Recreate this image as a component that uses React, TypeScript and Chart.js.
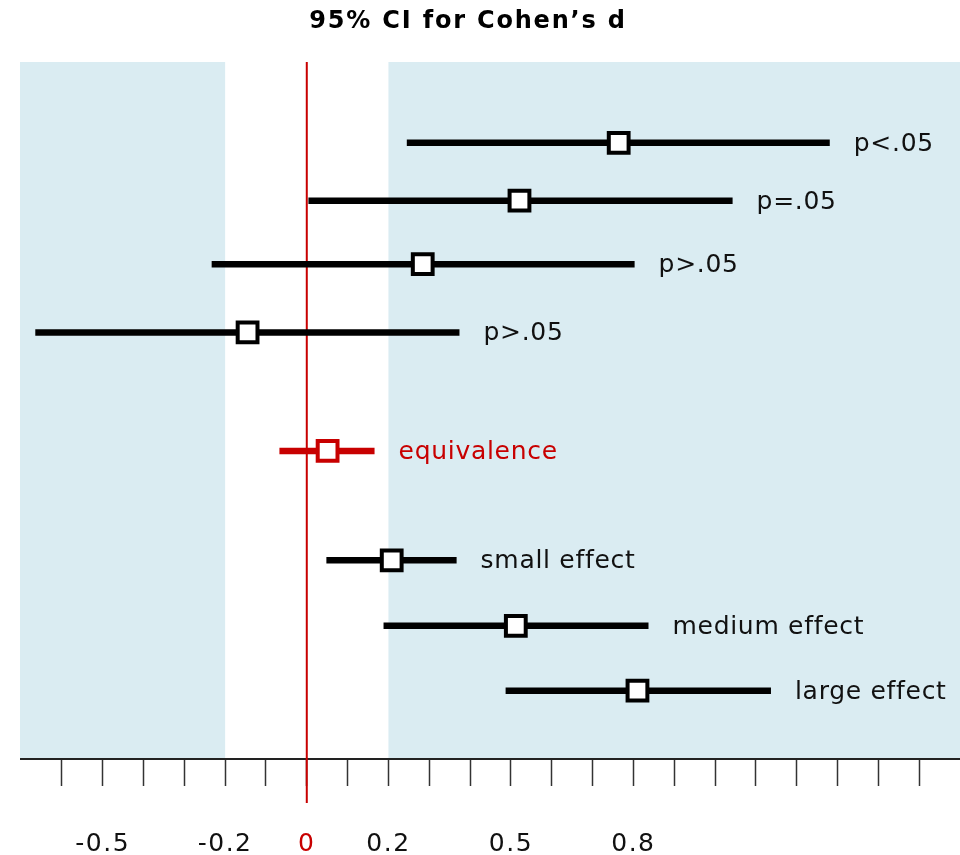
import React, { useEffect, useRef } from "react";
import { Chart, registerables } from "chart.js";

Chart.register(...registerables);

// ---- data ----
const rowLabels = ["p<.05", "p=.05", "p>.05", "p>.05", "equivalence", "small effect", "medium effect", "large effect"];
const rowPos = [1.16, 1.99, 2.9, 3.88, 5.58, 7.15, 8.09, 9.02];
const ciLower = [0.245, 0.004, -0.233, -0.665, -0.067, 0.048, 0.188, 0.487];
const ciUpper = [1.281, 1.043, 0.803, 0.374, 0.166, 0.367, 0.837, 1.137];
const estimate = [0.764, 0.521, 0.284, -0.145, 0.051, 0.208, 0.512, 0.81];
const highlightRow = 4; // equivalence row in red

const tickValues = [-0.6, -0.5, -0.4, -0.3, -0.2, -0.1, 0, 0.1, 0.2, 0.3, 0.4, 0.5, 0.6, 0.7, 0.8, 0.9, 1.0, 1.1, 1.2, 1.3, 1.4, 1.5];
const labeledTickValues = [-0.5, -0.2, 0, 0.2, 0.5, 0.8];
const labeledTickText = ["-0.5", "-0.2", "0", "0.2", "0.5", "0.8"];
const shadeBelow = -0.2;
const shadeAbove = 0.2;
const titleText = "95% CI for Cohen\u2019s d";

const RED = "#c80000";
const BLUE = "#daecf2";
const FONT = "'DejaVu Sans', Verdana, sans-serif";

export default function App() {
  const ref = useRef<HTMLCanvasElement>(null);

  useEffect(() => {
    document.body.style.margin = "0";
    const canvas = ref.current!;

    const barSets = ciLower.map((lo, i) => ({
      type: "scatter" as const,
      showLine: true,
      data: [
        { x: lo, y: rowPos[i] },
        { x: ciUpper[i], y: rowPos[i] },
      ],
      borderColor: i === highlightRow ? RED : "#000",
      borderWidth: 6.5,
      borderCapStyle: "butt" as const,
      pointRadius: 0,
      pointHoverRadius: 0,
      order: 2,
    }));

    const markerSet = {
      type: "scatter" as const,
      data: estimate.map((v, i) => ({ x: v, y: rowPos[i] })),
      pointStyle: "rect" as const,
      pointRadius: 14,
      pointHoverRadius: 14,
      pointBorderWidth: 4,
      pointBackgroundColor: "#fff",
      pointBorderColor: estimate.map((_, i) => (i === highlightRow ? RED : "#000")),
      borderWidth: 4,
      showLine: false,
      order: 0,
    };

    const decor = {
      id: "decor",
      beforeDraw(chart: any) {
        const { ctx, chartArea, scales } = chart;
        const x = scales.x;
        ctx.save();
        ctx.fillStyle = BLUE;
        const xl = x.getPixelForValue(shadeBelow);
        const xr = x.getPixelForValue(shadeAbove);
        ctx.fillRect(chartArea.left - 1, chartArea.top, xl - chartArea.left + 1, chartArea.bottom - chartArea.top - 1);
        ctx.fillRect(xr, chartArea.top, chartArea.right - xr, chartArea.bottom - chartArea.top - 1);
        ctx.restore();
        (ctx as any).letterSpacing = "1.5px";
      },
      beforeDatasetsDraw(chart: any) {
        const { ctx, chartArea, scales } = chart;
        const x0 = scales.x.getPixelForValue(0);
        ctx.save();
        ctx.strokeStyle = RED;
        ctx.lineWidth = 2;
        ctx.beginPath();
        ctx.moveTo(x0, chartArea.top);
        ctx.lineTo(x0, chartArea.bottom + 44);
        ctx.stroke();
        ctx.restore();
      },
      afterDraw(chart: any) {
        const { ctx, scales } = chart;
        ctx.save();
        (ctx as any).letterSpacing = "0.7px";
        ctx.font = `25px ${FONT}`;
        ctx.textAlign = "left";
        ctx.textBaseline = "alphabetic";
        rowLabels.forEach((t, i) => {
          ctx.fillStyle = i === highlightRow ? RED : "#111";
          const px = scales.x.getPixelForValue(ciUpper[i]) + 24;
          const py = scales.y.getPixelForValue(rowPos[i]) + 8;
          ctx.fillText(t, px, py);
        });
        (ctx as any).letterSpacing = "1.8px";
        ctx.font = `bold 24px ${FONT}`;
        ctx.fillStyle = "#000";
        ctx.textAlign = "center";
        ctx.fillText(titleText, 468, 28);
        ctx.restore();
        (ctx as any).letterSpacing = "0px";
      },
    };

    const chart = new Chart(canvas, {
      type: "scatter",
      data: { datasets: [markerSet as any, ...barSets] },
      options: {
        animation: false,
        responsive: false,
        events: [],
        layout: { autoPadding: false, padding: { top: 62, left: 21, right: 0, bottom: 0 } },
        plugins: { legend: { display: false }, tooltip: { enabled: false }, title: { display: false } },
        scales: {
          x: {
            type: "linear",
            min: -0.7,
            max: 1.6,
            afterBuildTicks(scale: any) {
              scale.ticks = tickValues.map((v) => ({ value: v }));
            },
            afterFit(scale: any) {
              scale.height = 96;
              scale.paddingLeft = 0;
              scale.paddingRight = 0;
            },
            border: { display: true, color: "#222", width: 2 },
            grid: {
              display: true,
              drawOnChartArea: false,
              drawTicks: true,
              tickLength: 27,
              tickColor: "#333",
              tickWidth: 1.5,
            },
            ticks: {
              autoSkip: false,
              maxRotation: 0,
              minRotation: 0,
              padding: 43,
              font: { family: FONT, size: 25 },
              color: (c: any) => (Math.abs(c.tick.value) < 1e-9 ? RED : "#111"),
              callback: (v: any) => {
                const k = labeledTickValues.findIndex((t) => Math.abs(t - Number(v)) < 1e-9);
                return k >= 0 ? labeledTickText[k] : "";
              },
            },
          },
          y: {
            type: "linear",
            display: false,
            min: 0,
            max: 10,
            reverse: true,
          },
        },
      },
      plugins: [decor],
    });

    return () => chart.destroy();
  }, []);

  return <canvas ref={ref} width={960} height={855} style={{ display: "block" }} />;
}
